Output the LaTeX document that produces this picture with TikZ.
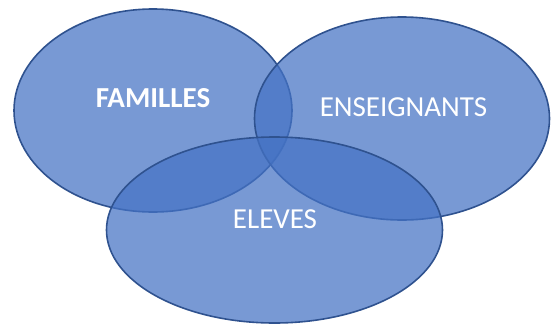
\documentclass[tikz,border=0pt]{standalone}
\usepackage{fontspec}
\setmainfont{Carlito}
\definecolor{vfill}{HTML}{4472C4}
\definecolor{vline}{HTML}{2F528F}
\tikzset{
  setshape/.style={fill=vfill, fill opacity=0.72, draw=vline, draw opacity=1, line width=1.6pt},
  setlabel/.style={text=white, font=\fontsize{29}{32}\selectfont, inner sep=0pt}
}
\begin{document}
\begin{tikzpicture}[x=1pt,y=-1pt]
\useasboundingbox (0,0) rectangle (552,325);
\draw[setshape] (153,110.5) ellipse [x radius=139, y radius=101.5];
\draw[setshape] (402,118.5) ellipse [x radius=147.5, y radius=101.5];
\draw[setshape] (274.5,230) ellipse [x radius=168, y radius=93];
\node[setlabel, font=\fontsize{29}{32}\selectfont\bfseries] (fam) at (153,98.5) {FAMILLES};
\node[setlabel] (ens) at (403.5,107.5) {ENSEIGNANTS};
\node[setlabel] (elv) at (275,219.5) {ELEVES};
\end{tikzpicture}
\end{document}
